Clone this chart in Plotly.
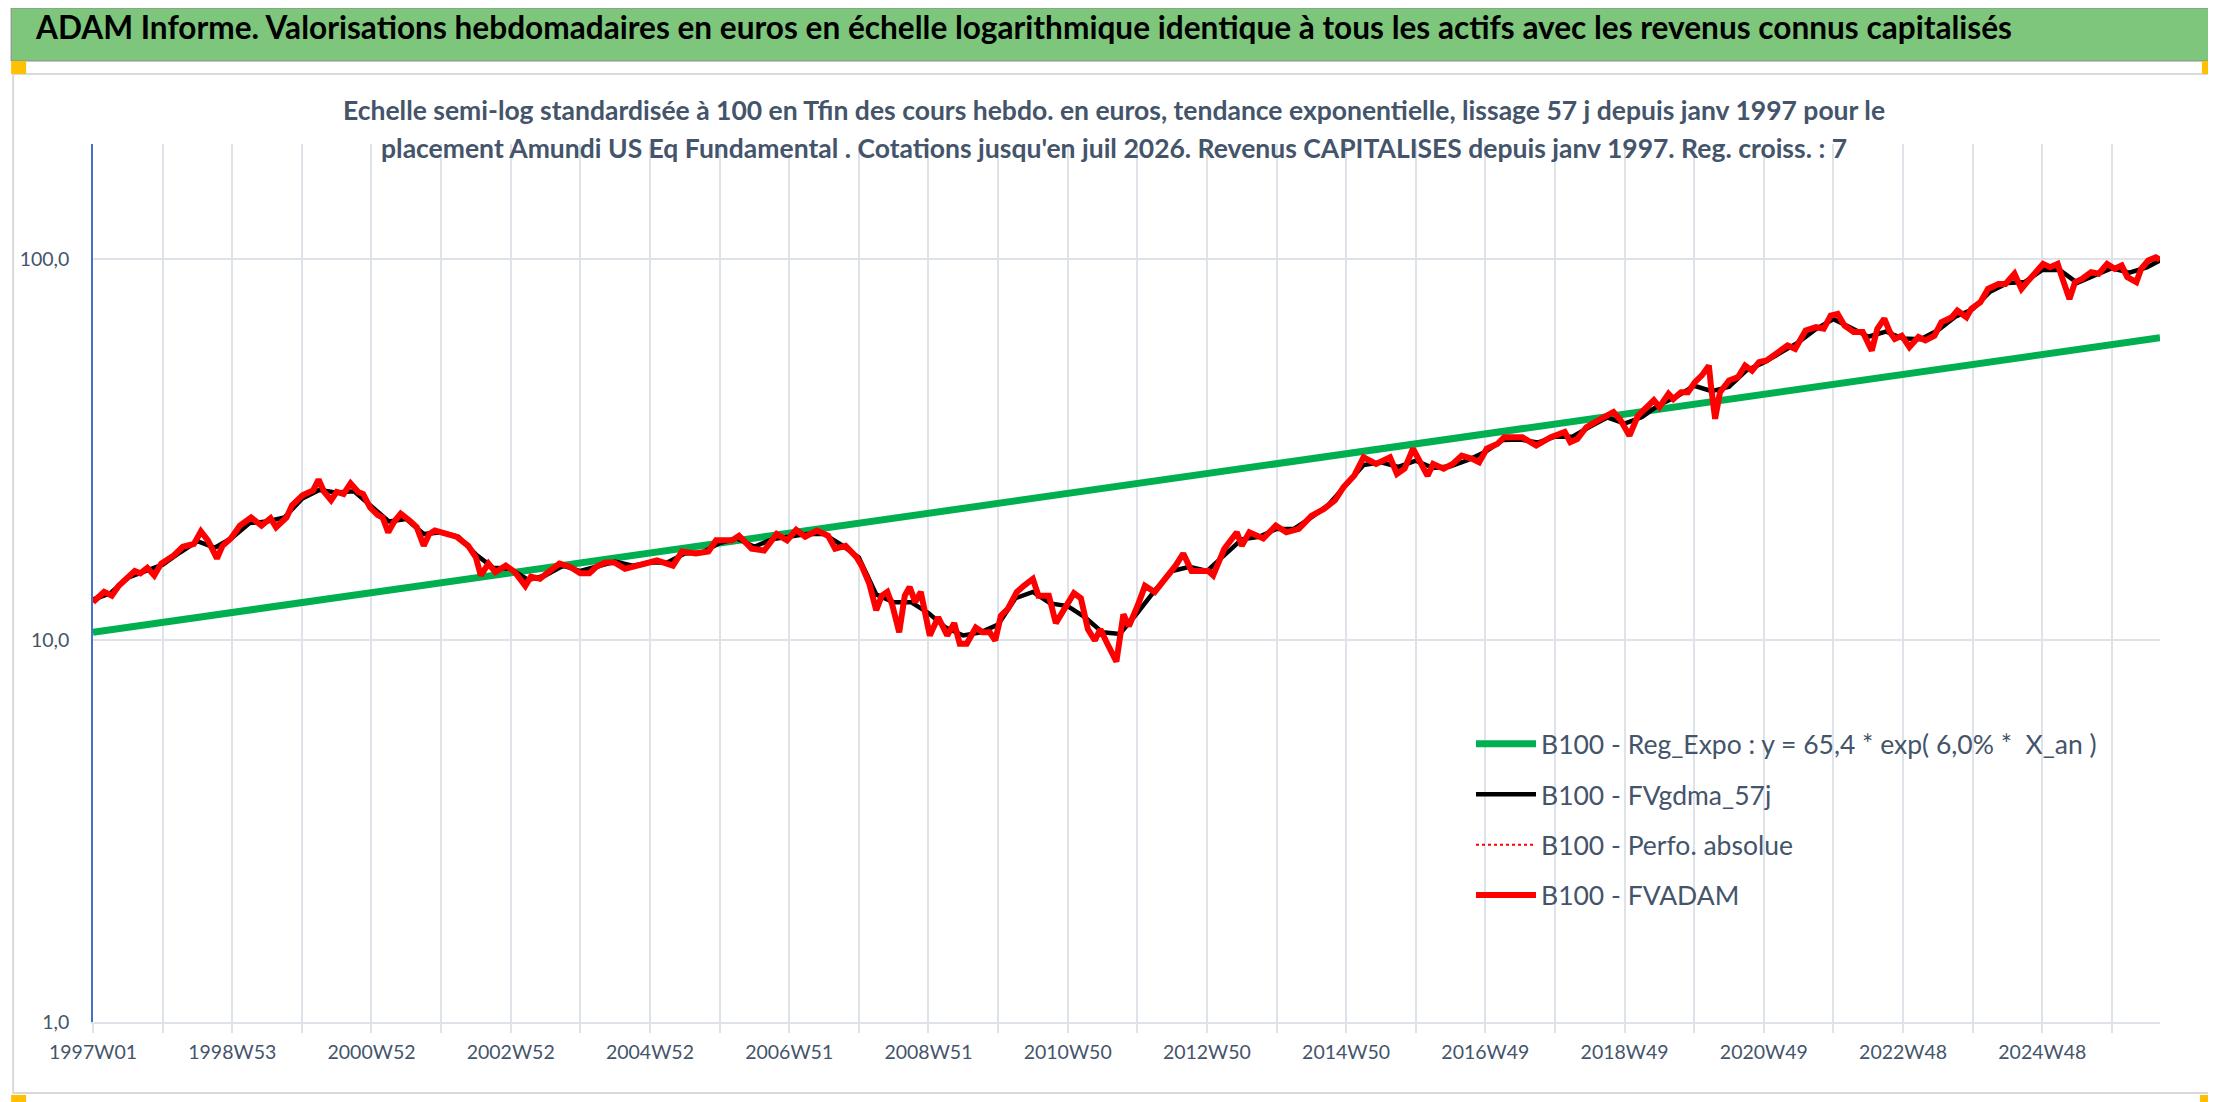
import plotly.graph_objects as go

# ---- data ----
# FVADAM (red), in years measured on the chart's weekly grid
fv_years = [
    1997.00, 1997.16, 1997.27, 1997.37, 1997.60, 1997.68, 1997.78, 1997.88, 1997.98,
    1998.16, 1998.29, 1998.45, 1998.55, 1998.65, 1998.78, 1998.86, 1998.98,
    1999.11, 1999.27, 1999.42, 1999.55, 1999.63, 1999.78, 1999.86,
    2000.01, 2000.16, 2000.24, 2000.32, 2000.42, 2000.50, 2000.60, 2000.70, 2000.81, 2000.88, 2000.98,
    2001.09, 2001.16, 2001.24, 2001.32, 2001.42, 2001.55, 2001.65, 2001.75, 2001.83, 2001.91,
    2002.06, 2002.22, 2002.39, 2002.50, 2002.57, 2002.68, 2002.78, 2002.93,
    2003.06, 2003.21, 2003.29, 2003.42, 2003.54, 2003.70, 2003.85,
    2004.00, 2004.13, 2004.23, 2004.36, 2004.49, 2004.64, 2004.85,
    2005.10, 2005.33, 2005.46, 2005.66, 2005.84, 2005.95,
    2006.18, 2006.28, 2006.46, 2006.64, 2006.82, 2006.97,
    2007.10, 2007.23, 2007.40, 2007.56, 2007.66, 2007.81, 2007.97,
    2008.04, 2008.15, 2008.25, 2008.33, 2008.41, 2008.48, 2008.58, 2008.66, 2008.73, 2008.81, 2008.89,
    2009.02, 2009.14, 2009.27, 2009.37, 2009.45, 2009.55, 2009.68, 2009.78, 2009.88, 2009.96,
    2010.04, 2010.14, 2010.27, 2010.37, 2010.50, 2010.58, 2010.73, 2010.83, 2010.96,
    2011.09, 2011.19, 2011.29, 2011.39, 2011.47, 2011.57, 2011.70, 2011.80, 2011.88,
    2012.01, 2012.11, 2012.25, 2012.40, 2012.55, 2012.66, 2012.78,
    2013.02, 2013.09, 2013.25, 2013.43, 2013.50, 2013.61, 2013.81, 2013.99,
    2014.14, 2014.32, 2014.50, 2014.68, 2014.84, 2014.96,
    2015.12, 2015.25, 2015.43, 2015.63, 2015.73, 2015.84, 2015.96,
    2016.07, 2016.17, 2016.25, 2016.40, 2016.53, 2016.66, 2016.81, 2016.91,
    2017.02, 2017.17, 2017.27, 2017.53, 2017.73, 2017.94,
    2018.14, 2018.22, 2018.32, 2018.45, 2018.66, 2018.84, 2018.94,
    2019.07, 2019.19, 2019.30, 2019.42, 2019.50, 2019.63, 2019.70, 2019.81, 2019.91,
    2020.01, 2020.11, 2020.21, 2020.24, 2020.30, 2020.37, 2020.50, 2020.63, 2020.73, 2020.83, 2020.93,
    2021.04, 2021.19, 2021.34, 2021.45, 2021.60, 2021.75, 2021.86, 2021.96,
    2022.06, 2022.16, 2022.29, 2022.42, 2022.55, 2022.63, 2022.73, 2022.81, 2022.88, 2022.98,
    2023.09, 2023.22, 2023.32, 2023.45, 2023.55, 2023.70, 2023.78, 2023.91, 2023.98,
    2024.11, 2024.22, 2024.37, 2024.47, 2024.60, 2024.70, 2024.78, 2024.88,
    2025.01, 2025.11, 2025.22, 2025.29, 2025.39, 2025.47, 2025.57, 2025.70, 2025.81, 2025.93,
    2026.04, 2026.14, 2026.22, 2026.35, 2026.42, 2026.52, 2026.63, 2026.69,
]
fv_values = [
    12.6, 13.4, 13.1, 13.9, 15.2, 15.0, 15.5, 14.8, 15.9,
    16.7, 17.6, 17.9, 19.3, 18.3, 16.4, 17.7, 18.5,
    20.0, 21.0, 20.0, 20.9, 19.8, 21.0, 22.6,
    24.0, 24.7, 26.4, 24.5, 23.3, 24.5, 24.2, 25.8, 24.5, 24.2, 22.3,
    21.3, 21.0, 19.2, 20.4, 21.5, 20.6, 19.8, 17.7, 19.0, 19.4,
    19.0, 18.7, 17.7, 16.5, 14.8, 15.9, 15.1, 15.7,
    15.1, 13.9, 14.7, 14.5, 15.1, 15.9, 15.6,
    15.0, 15.0, 15.6, 16.0, 16.0, 15.4, 15.7,
    16.2, 15.7, 17.1, 16.9, 17.1, 18.3,
    18.3, 18.8, 17.4, 17.2, 19.0, 18.3,
    19.5, 18.7, 19.4, 18.8, 17.4, 17.7, 16.5,
    15.7, 14.1, 12.0, 13.1, 13.4, 12.4, 10.5, 13.1, 13.8, 12.6, 13.4,
    10.3, 11.5, 10.3, 11.1, 9.8, 9.8, 10.8, 10.5, 10.5, 10.0,
    11.6, 12.1, 13.4, 13.9, 14.5, 13.1, 13.1, 11.1, 12.1,
    13.3, 12.9, 10.7, 10.0, 10.7, 9.8, 8.8, 11.7, 10.9,
    12.4, 13.9, 13.4, 14.5, 15.7, 16.9, 15.2,
    15.2, 14.8, 17.4, 19.2, 17.7, 19.2, 18.5, 20.0,
    19.2, 19.6, 21.2, 22.1, 23.3, 25.2,
    27.1, 30.2, 29.0, 30.2, 27.3, 28.2, 31.8,
    29.3, 27.0, 29.0, 28.2, 29.0, 30.5, 29.9, 29.3,
    31.8, 32.7, 34.1, 34.1, 32.4, 34.1,
    35.2, 33.1, 33.7, 36.2, 38.1, 39.7, 37.8,
    34.4, 38.8, 40.4, 42.6, 40.9, 44.3, 42.9, 44.7, 44.7,
    47.5, 49.5, 52.5, 46.5, 38.1, 44.7, 48.0, 49.0, 52.5, 50.9, 53.6,
    54.2, 56.4, 59.3, 58.1, 64.9, 66.2, 65.6, 71.0,
    71.7, 66.8, 64.3, 64.3, 57.5, 65.6, 69.7, 64.3, 61.7, 62.9,
    58.7, 62.4, 61.1, 62.9, 68.2, 70.3, 73.2, 70.3, 74.0,
    77.0, 83.4, 85.9, 85.9, 91.4, 83.4, 86.9, 91.4,
    97.0, 95.1, 97.0, 88.6, 78.5, 86.9, 88.6, 92.3, 91.4, 97.0,
    94.2, 96.1, 89.6, 86.9, 94.2, 99.0, 100.9, 99.6,
]

# FVgdma_57j (black smoothed line)
ma_years = [
    1997.00, 1997.25, 1997.50, 1997.75, 1998.00, 1998.25, 1998.50, 1998.75,
    1999.00, 1999.25, 1999.50, 1999.75, 2000.00, 2000.25, 2000.50, 2000.75,
    2001.00, 2001.25, 2001.50, 2001.75, 2002.00, 2002.25, 2002.50, 2002.75,
    2003.00, 2003.25, 2003.50, 2003.75, 2004.00, 2004.25, 2004.50, 2004.75,
    2005.00, 2005.25, 2005.50, 2005.75, 2006.00, 2006.25, 2006.50, 2006.75,
    2007.00, 2007.25, 2007.50, 2007.75, 2008.00, 2008.25, 2008.50, 2008.75,
    2009.00, 2009.25, 2009.50, 2009.75, 2010.00, 2010.25, 2010.50, 2010.75,
    2011.00, 2011.25, 2011.50, 2011.75, 2012.00, 2012.25, 2012.50, 2012.75,
    2013.00, 2013.25, 2013.50, 2013.75, 2014.00, 2014.25, 2014.50, 2014.75,
    2015.00, 2015.25, 2015.50, 2015.75, 2016.00, 2016.25, 2016.50, 2016.75,
    2017.00, 2017.25, 2017.50, 2017.75, 2018.00, 2018.25, 2018.50, 2018.75,
    2019.00, 2019.25, 2019.50, 2019.75, 2020.00, 2020.25, 2020.50, 2020.75,
    2021.00, 2021.25, 2021.50, 2021.75, 2022.00, 2022.25, 2022.50, 2022.75,
    2023.00, 2023.25, 2023.50, 2023.75, 2024.00, 2024.25, 2024.50, 2024.75,
    2025.00, 2025.25, 2025.50, 2025.75, 2026.00, 2026.25, 2026.50, 2026.69,
]
ma_values = [
    12.8, 13.3, 14.6, 15.2, 15.8, 17.0, 18.2, 17.5,
    18.6, 20.3, 20.5, 21.0, 23.5, 24.8, 24.4, 24.6,
    22.5, 20.5, 20.8, 19.0, 19.2, 18.7, 16.8, 15.5,
    15.4, 14.4, 14.8, 15.7, 15.2, 15.6, 16.1, 15.7,
    16.0, 16.0, 16.9, 17.0, 18.0, 18.5, 17.6, 18.4,
    18.7, 19.0, 19.0, 17.8, 16.5, 13.2, 12.6, 12.6,
    11.8, 10.8, 10.3, 10.5, 11.0, 12.9, 13.4, 12.5,
    12.3, 11.5, 10.5, 10.4, 11.8, 13.5, 15.2, 15.6,
    15.2, 16.8, 18.4, 18.7, 19.6, 19.6, 21.0, 22.7,
    25.5, 28.8, 29.3, 28.5, 29.6, 28.3, 28.6, 29.7,
    31.2, 33.5, 33.6, 33.0, 34.2, 34.2, 36.3, 38.4,
    37.0, 38.5, 41.5, 43.6, 46.5, 45.0, 46.2, 51.0,
    53.5, 57.0, 60.5, 65.5, 69.5, 66.0, 62.5, 64.5,
    61.8, 61.6, 65.0, 70.5, 73.8, 82.0, 86.5, 87.0,
    93.5, 93.5, 86.5, 90.5, 94.5, 92.0, 95.0, 99.0,
]

# Reg_Expo (green): straight line on the log scale between its two ends
reg_years = [1997.00, 2026.69]
reg_values = [10.5, 62.1]

x_tick_labels = [
    "1997W01", "1998W53", "2000W52", "2002W52", "2004W52", "2006W51", "2008W51",
    "2010W50", "2012W50", "2014W50", "2016W49", "2018W49", "2020W49", "2022W48", "2024W48",
]
y_tick_vals = [1, 10, 100]
y_tick_text = ["1,0", "10,0", "100,0"]

title_text = ("ADAM Informe. Valorisations hebdomadaires en euros en échelle logarithmique "
              "identique à tous les actifs avec les revenus connus capitalisés")
subtitle_1 = ("Echelle semi-log standardisée à 100 en Tfin des cours hebdo. en euros, tendance "
              "exponentielle, lissage 57 j depuis janv 1997 pour le")
subtitle_2 = ("placement Amundi US Eq Fundamental . Cotations jusqu'en juil 2026. Revenus "
              "CAPITALISES depuis janv 1997. Reg. croiss. : 7")


def to_week(years):
    return [(y - 1997.0) * 52 for y in years]


W, H = 2216, 1102
L, R, T, B = 82, 2152, 136, 1014  # plot area in pixels
FONT = "Lato, Liberation Sans, sans-serif"
TEXT_COL = "#44546A"
GRID = "#DEE3E9"


def px(x):
    return (x - L) / (R - L)


def py(y):
    return (B - y) / (B - T)


fig = go.Figure()
fig.add_trace(go.Scatter(x=to_week(reg_years), y=reg_values, mode="lines",
                         name="B100 - Reg_Expo : y = 65,4 * exp( 6,0% *  X_an )",
                         line=dict(color="#00B050", width=7), legendgroup="a"))
fig.add_trace(go.Scatter(x=to_week(ma_years), y=ma_values, mode="lines",
                         name="B100 - FVgdma_57j",
                         line=dict(color="#000000", width=4.5), legendgroup="b"))
fig.add_trace(go.Scatter(x=to_week(fv_years), y=fv_values, mode="lines",
                         name="B100 - Perfo. absolue",
                         line=dict(color="#FF0000", width=2, dash="dot"), legendgroup="c"))
fig.add_trace(go.Scatter(x=to_week(fv_years), y=fv_values, mode="lines",
                         name="B100 - FVADAM",
                         line=dict(color="#FF0000", width=6), legendgroup="d"))

tickvals = [52 * k for k in range(30)]
ticktext = [x_tick_labels[k // 2] if k % 2 == 0 and k // 2 < len(x_tick_labels) else ""
            for k in range(30)]

fig.update_xaxes(
    range=[0, to_week(reg_years)[-1]], tickvals=tickvals, ticktext=ticktext,
    showgrid=True, gridcolor=GRID, gridwidth=1.5,
    ticks="outside", ticklen=9, tickcolor=GRID, tickwidth=1.5,
    showline=True, linecolor=GRID, linewidth=1.5, zeroline=False,
    tickfont=dict(family=FONT, size=19.5, color=TEXT_COL), ticklabelstandoff=3,
)
fig.update_yaxes(
    type="log", range=[0, 2.301], tickvals=y_tick_vals, ticktext=y_tick_text,
    showgrid=True, gridcolor=GRID, gridwidth=1.5,
    showline=True, linecolor="#4472C4", linewidth=1.5, zeroline=False, ticks="",
    tickfont=dict(family=FONT, size=19.5, color=TEXT_COL), ticklabelstandoff=18,
)

shapes = [
    # header band
    dict(type="rect", xref="paper", yref="paper", x0=px(0), x1=px(W), y0=py(53), y1=py(0),
         fillcolor="#7DC67C", line=dict(color="#8C8C8C", width=1), layer="below"),
    # chart area border
    dict(type="rect", xref="paper", yref="paper", x0=px(2), x1=px(2206), y0=py(1085), y1=py(66),
         fillcolor="rgba(0,0,0,0)", line=dict(color="#D9D9D9", width=2), layer="below"),
    # selection handles
    dict(type="rect", xref="paper", yref="paper", x0=px(0), x1=px(15), y0=py(66), y1=py(53),
         fillcolor="#FFC000", line=dict(width=0)),
    dict(type="rect", xref="paper", yref="paper", x0=px(2194), x1=px(2216), y0=py(66), y1=py(53),
         fillcolor="#FFC000", line=dict(width=0)),
    dict(type="rect", xref="paper", yref="paper", x0=px(0), x1=px(15), y0=py(1100), y1=py(1087),
         fillcolor="#FFC000", line=dict(width=0)),
    dict(type="rect", xref="paper", yref="paper", x0=px(2192), x1=px(2214), y0=py(1100), y1=py(1087),
         fillcolor="#FFC000", line=dict(width=0)),
    dict(type="rect", xref="paper", yref="paper", x0=px(2208), x1=px(2215), y0=py(1087), y1=py(1038),
         fillcolor="#FFC000", line=dict(width=0)),
]

annotations = [
    dict(text="<b>" + title_text + "</b>", xref="paper", yref="paper", x=px(22), y=py(19),
         xanchor="left", yanchor="middle", showarrow=False,
         font=dict(family=FONT, size=31.6, color="#000000")),
    dict(text="<b>" + subtitle_1 + "</b>", xref="paper", yref="paper", x=px(1104), y=py(102),
         xanchor="center", yanchor="middle", showarrow=False,
         font=dict(family=FONT, size=26.5, color=TEXT_COL)),
    dict(text="<b>" + subtitle_2 + "</b>", xref="paper", yref="paper", x=px(1104), y=py(140),
         xanchor="center", yanchor="middle", showarrow=False,
         font=dict(family=FONT, size=26.5, color=TEXT_COL)),
]

fig.update_layout(
    width=W, height=H,
    margin=dict(l=L, r=W - R, t=T, b=H - B),
    paper_bgcolor="white", plot_bgcolor="white",
    shapes=shapes, annotations=annotations,
    showlegend=True,
    legend=dict(x=px(1462), y=py(712), xanchor="left", yanchor="top",
                traceorder="grouped", tracegroupgap=13, itemwidth=60,
                bgcolor="rgba(0,0,0,0)",
                font=dict(family=FONT, size=26.5, color=TEXT_COL)),
)

fig.write_html("out.html")
